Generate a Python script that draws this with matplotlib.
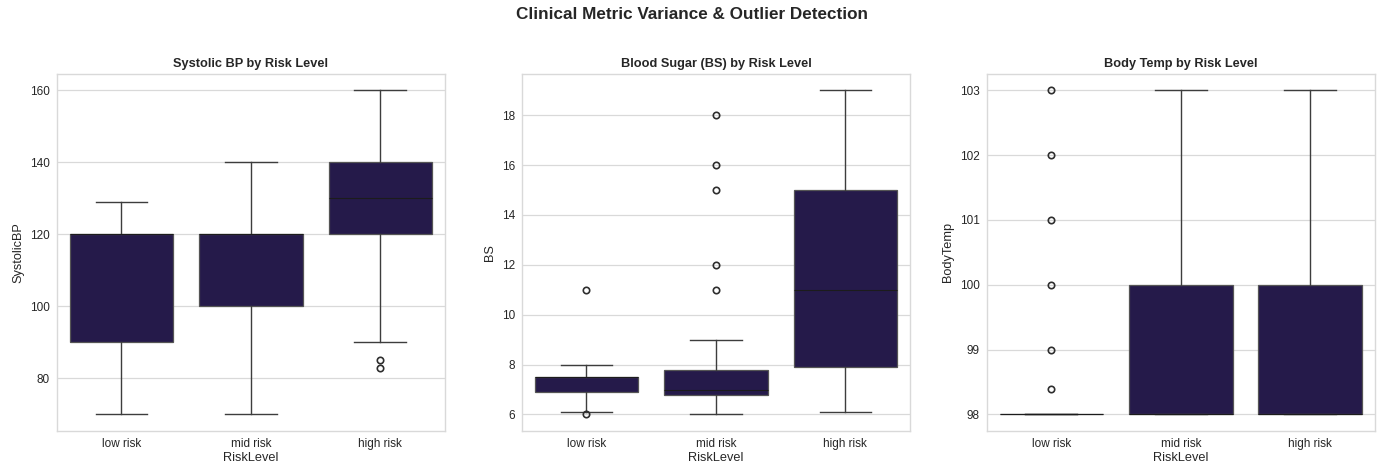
import numpy as np
import matplotlib
matplotlib.use("Agg")
import matplotlib.pyplot as plt

# --- Data ---
risk_levels = ["low risk", "mid risk", "high risk"]

# Systolic BP
bp_q1 = [90, 100, 120]
bp_med = [120, 120, 130]
bp_q3 = [120, 120, 140]
bp_lo = [70, 70, 90]
bp_hi = [129, 140, 160]
bp_fliers = [[], [], [85, 83]]

# Blood sugar
bs_q1 = [6.9, 6.8, 7.9]
bs_med = [7.5, 7.0, 11.0]
bs_q3 = [7.5, 7.8, 15.0]
bs_lo = [6.1, 6.0, 6.1]
bs_hi = [8.0, 9.0, 19.0]
bs_fliers = [[11, 6], [11, 12, 15, 16, 18], []]

# Body temperature
bt_q1 = [98, 98, 98]
bt_med = [98, 98, 98]
bt_q3 = [98, 100, 100]
bt_lo = [98, 98, 98]
bt_hi = [98, 103, 103]
bt_fliers = [[98.4, 99, 100, 101, 102, 103], [], []]

# --- Style ---
box_color = '#251a4a'
line_color = '#3d3d3d'
grid_color = '#d9d9d9'
text_color = '#262626'

title_fz = 9.2
label_fz = 9.2
tick_fz = 8.5
suptitle_fz = 12.3

plt.rcParams['font.family'] = ['Liberation Sans', 'DejaVu Sans']


def make_stats(q1, med, q3, lo, hi, fliers):
    stats = []
    for i in range(len(q1)):
        stats.append(dict(q1=q1[i], med=med[i], q3=q3[i],
                          whislo=lo[i], whishi=hi[i],
                          fliers=np.array(fliers[i], dtype=float)))
    return stats


panels = [
    ("Systolic BP by Risk Level", "SystolicBP",
     make_stats(bp_q1, bp_med, bp_q3, bp_lo, bp_hi, bp_fliers)),
    ("Blood Sugar (BS) by Risk Level", "BS",
     make_stats(bs_q1, bs_med, bs_q3, bs_lo, bs_hi, bs_fliers)),
    ("Body Temp by Risk Level", "BodyTemp",
     make_stats(bt_q1, bt_med, bt_q3, bt_lo, bt_hi, bt_fliers)),
]

fig = plt.figure(figsize=(13.84, 4.68), dpi=100)
lefts = [0.0410, 0.3770, 0.7129]

for left, (title, ylabel, stats) in zip(lefts, panels):
    ax = fig.add_axes([left, 0.0797, 0.2806, 0.7622])
    ax.bxp(stats, positions=np.arange(len(risk_levels)), widths=0.8,
           patch_artist=True, showfliers=True,
           boxprops=dict(facecolor=box_color, edgecolor='#555555', linewidth=0.9),
           whiskerprops=dict(color=line_color, linewidth=1.0),
           capprops=dict(color=line_color, linewidth=1.0),
           medianprops=dict(color='#1c1c1c', linewidth=0.8),
           flierprops=dict(marker='o', markerfacecolor='none',
                           markeredgecolor='#2e2e2e', markersize=4.6,
                           markeredgewidth=1.2),
           capwidths=0.4)
    ax.set_xlim(-0.5, len(risk_levels) - 0.5)
    ax.set_xticks(np.arange(len(risk_levels)))
    ax.set_xticklabels(risk_levels)
    ax.set_axisbelow(True)
    ax.yaxis.grid(True, color=grid_color, linewidth=0.9)
    ax.xaxis.grid(False)
    for sp in ax.spines.values():
        sp.set_color(grid_color)
        sp.set_linewidth(1.0)
    ax.tick_params(axis='both', length=0, labelsize=tick_fz,
                   labelcolor=text_color, pad=5)
    ax.set_title(title, fontsize=title_fz, fontweight='bold',
                 color=text_color, pad=5)
    ax.set_xlabel("RiskLevel", fontsize=label_fz, color=text_color, labelpad=2)
    ax.set_ylabel(ylabel, fontsize=label_fz, color=text_color, labelpad=4)

fig.suptitle('Clinical Metric Variance & Outlier Detection',
             fontsize=suptitle_fz, fontweight='bold', color=text_color,
             x=0.5, y=0.985)

plt.savefig('out.png', dpi=100)
